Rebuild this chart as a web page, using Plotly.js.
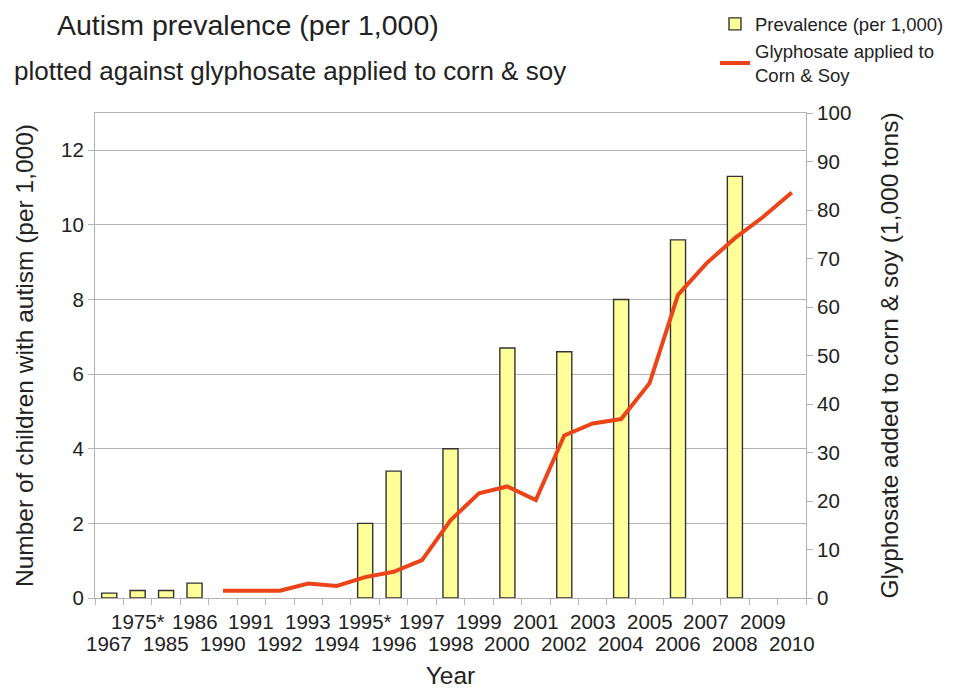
<!DOCTYPE html>
<html>
<head>
<meta charset="utf-8">
<script src="https://cdn.plot.ly/plotly-3.0.1.min.js"></script>
<style>html,body{margin:0;padding:0;background:#fff;}#chart{width:957px;height:689px;}</style>
</head>
<body>
<div id="chart"></div>
<script>
const years = ["1967","1975*","1985","1986","1990","1991","1992","1993","1994","1995*","1996","1997","1998","1999","2000","2001","2002","2003","2004","2005","2006","2007","2008","2009","2010"];
const prevalenceYears = ["1967","1975*","1985","1986","1995*","1996","1998","2000","2002","2004","2006","2008"];
const prevalence = [0.13,0.2,0.2,0.4,2.0,3.4,4.0,6.7,6.6,8.0,9.6,11.3];
const glyphosateYears = ["1990","1991","1992","1993","1994","1995*","1996","1997","1998","1999","2000","2001","2002","2003","2004","2005","2006","2007","2008","2009","2010"];
const glyphosate = [1.5,1.5,1.5,3.0,2.5,4.3,5.4,7.8,16,21.6,23,20.2,33.5,36,36.9,44.3,62.5,69,74.2,78.6,83.6];

const font = "Liberation Sans, Arial, sans-serif";
const txt = "#222";
const grid = "#b3b3b3";
const tickSize = 20.5;

// staggered category labels: odd positions on the upper row, even on the lower row
// (x is the category's index on the category axis)
const tickAnnotations = years.map((y,i)=>({
  text:y, xref:"x", yref:"paper", x:i, y:0, yanchor:"middle", xanchor:"center",
  yshift: i%2===1 ? -23.5 : -45, showarrow:false, font:{size:tickSize, color:txt}
}));

const data = [
  {type:"bar", x:prevalenceYears, y:prevalence, name:"Prevalence (per 1,000)",
   marker:{color:"#ffff99", line:{color:"#333333", width:1.4}}, yaxis:"y"},
  {type:"scatter", mode:"lines", x:glyphosateYears, y:glyphosate, name:"Glyphosate applied to<br>Corn &amp; Soy",
   line:{color:"#ec4418", width:4}, yaxis:"y2"}
];
const layout = {
  width:957, height:689,
  margin:{l:95, r:151, t:113, b:91, autoexpand:false},
  paper_bgcolor:"#fff", plot_bgcolor:"#fff",
  font:{family:font, color:txt, size:16},
  bargap:0.47,
  showlegend:true,
  legend:{x:0.872, y:1.222, xanchor:"left", yanchor:"top", font:{size:18.5, color:txt}, bgcolor:"rgba(0,0,0,0)", tracegroupgap:0, itemwidth:30},
  title:{text:"Autism prevalence (per 1,000)", x:57/957, xref:"container", xanchor:"left", y:1-25/689, yref:"container", yanchor:"middle", font:{size:28.5, color:txt}},
  annotations:[
    {text:"plotted against glyphosate applied to corn &amp; soy", xref:"paper", yref:"paper", x:(12-95)/711, y:(598-71)/485, xanchor:"left", yanchor:"middle", showarrow:false, font:{size:26, color:txt}}
  ].concat(tickAnnotations),
  xaxis:{type:"category", categoryorder:"array", categoryarray:years, tickvals:years, showticklabels:false,
    tickson:"boundaries", ticks:"outside", ticklen:6, tickcolor:grid, showline:true, linecolor:grid, mirror:true,
    showgrid:false, range:[-0.5,24.5],
    title:{text:"Year", font:{size:24.5, color:txt}, standoff:84}},
  yaxis:{range:[0,13], tickvals:[0,2,4,6,8,10,12], ticks:"outside", ticklen:6, tickcolor:grid, showline:true, linecolor:grid,
    gridcolor:grid, gridwidth:1, zeroline:false, tickfont:{size:tickSize, color:txt},
    title:{text:"Number of children with autism (per 1,000)", font:{size:24.5, color:txt}, standoff:20}},
  yaxis2:{overlaying:"y", side:"right", range:[0,100], dtick:10, ticks:"outside", ticklen:6, tickcolor:grid, showline:true, linecolor:grid,
    showgrid:false, zeroline:false, tickfont:{size:tickSize, color:txt},
    title:{text:"Glyphosate added to corn &amp; soy (1,000 tons)", font:{size:24.5, color:txt}, standoff:30}}
};
Plotly.newPlot("chart", data, layout, {displayModeBar:false, staticPlot:true});
</script>
</body>
</html>
